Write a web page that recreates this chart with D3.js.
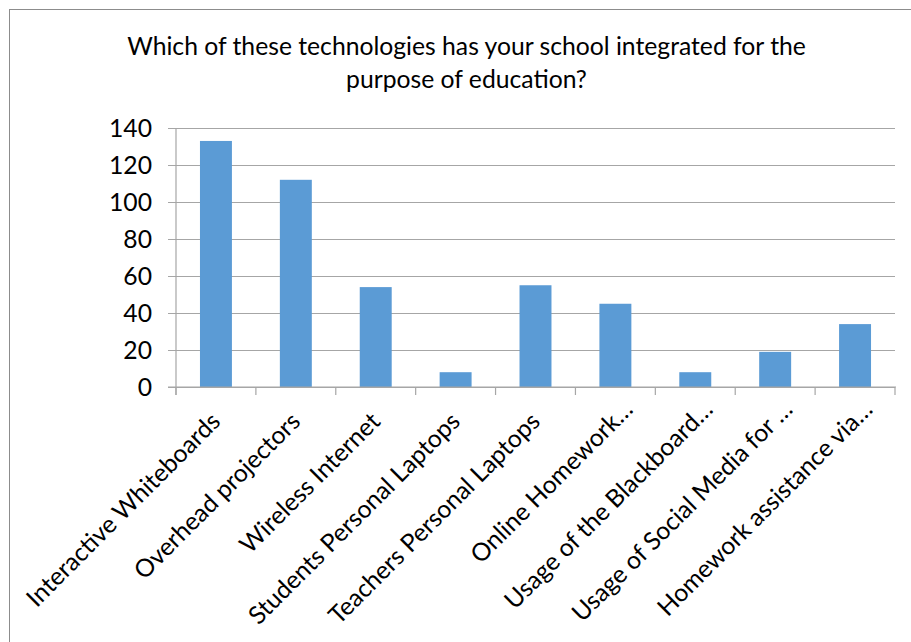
<!DOCTYPE html>
<html>
<head>
<meta charset="utf-8">
<script src="https://cdn.jsdelivr.net/npm/d3@7"></script>
<style>
  html, body { margin: 0; padding: 0; background: #fff; }
  svg { display: block; }
  text { font-family: Lato, "Open Sans", "Liberation Sans", sans-serif; fill: #000; }
</style>
</head>
<body>
<svg id="chart" width="911" height="642"></svg>
<script>
// Survey answers: technologies integrated at school
const categories = [
  "Interactive Whiteboards",
  "Overhead projectors",
  "Wireless Internet",
  "Students Personal Laptops",
  "Teachers Personal Laptops",
  "Online Homework…",
  "Usage of the Blackboard…",
  "Usage of Social Media for …",
  "Homework assistance via…"
];
const counts = [133, 112, 54, 8, 55, 45, 8, 19, 34];
const yTicks = [0, 20, 40, 60, 80, 100, 120, 140];
const titleLines = [
  "Which of these technologies has your school integrated for the",
  "purpose of education?"
];

const W = 911, H = 642;
const plot = { left: 176, right: 895, top: 128, bottom: 387 };
const gridColor = "#a6a6a6";
const barColor = "#5b9bd5";

const svg = d3.select("#chart");

// Fit the font size so the first title line spans its intended width
const probe = svg.append("text").attr("font-size", 26).text(titleLines[0]);
const fs = 26 * 679 / probe.node().getComputedTextLength();
probe.remove();

// Chart frame
svg.append("rect")
  .attr("x", 9.5).attr("y", 9.5)
  .attr("width", W + 20).attr("height", H + 20)
  .attr("fill", "none").attr("stroke", "#8c8c8c").attr("stroke-width", 1);

// Title
svg.append("g").selectAll("text").data(titleLines).join("text")
  .attr("x", 466.5)
  .attr("y", (d, i) => 55 + i * 33)
  .attr("text-anchor", "middle")
  .attr("font-size", fs)
  .text(d => d);

const x = d3.scaleBand().domain(categories).range([plot.left, plot.right]).paddingInner(0.6).paddingOuter(0.3);
const xOuter = d3.scaleBand().domain(categories).range([plot.left, plot.right]);
const y = d3.scaleLinear().domain([0, 140]).range([plot.bottom, plot.top]);

// Horizontal gridlines with short outer ticks and value labels
const yAxis = d3.axisLeft(y)
  .tickValues(yTicks)
  .tickSize(-(plot.right - plot.left + 8))
  .tickSizeOuter(0);
const gy = svg.append("g").attr("transform", `translate(${plot.left - 8},0)`).call(yAxis);
gy.select(".domain").remove();
gy.selectAll(".tick line").attr("stroke", gridColor).attr("stroke-width", 1.2);
gy.selectAll(".tick text")
  .attr("font-size", fs)
  .attr("x", -16)
  .attr("dy", "0.34em");

// Vertical value axis line
svg.append("line")
  .attr("x1", plot.left).attr("x2", plot.left)
  .attr("y1", plot.top).attr("y2", plot.bottom + 8)
  .attr("stroke", gridColor).attr("stroke-width", 1.2);

// Bars
svg.append("g").selectAll("rect").data(counts).join("rect")
  .attr("x", (d, i) => x(categories[i]))
  .attr("y", d => y(d))
  .attr("width", x.bandwidth())
  .attr("height", d => y(0) - y(d))
  .attr("fill", barColor);

// Category axis: baseline and boundary ticks
svg.append("line")
  .attr("x1", plot.left - 8).attr("x2", plot.right + 1)
  .attr("y1", plot.bottom).attr("y2", plot.bottom)
  .attr("stroke", gridColor).attr("stroke-width", 1.2);
const bounds = categories.map(c => xOuter(c)).concat([plot.right]);
svg.append("g").selectAll("line").data(bounds).join("line")
  .attr("x1", d => d).attr("x2", d => d)
  .attr("y1", plot.bottom).attr("y2", plot.bottom + 8)
  .attr("stroke", gridColor).attr("stroke-width", 1.2);

// Rotated category labels (shortened ones sit a little further out)
svg.append("g").selectAll("text").data(categories).join("text")
  .attr("font-size", fs)
  .attr("text-anchor", "end")
  .attr("transform", d => {
    const c = xOuter(d) + xOuter.bandwidth() / 2;
    const trunc = d.endsWith("…");
    const px = c + (trunc ? 19 : 6);
    const py = trunc ? 411 : 423;
    return `translate(${px},${py}) rotate(-45)`;
  })
  .text(d => d);
</script>
</body>
</html>
